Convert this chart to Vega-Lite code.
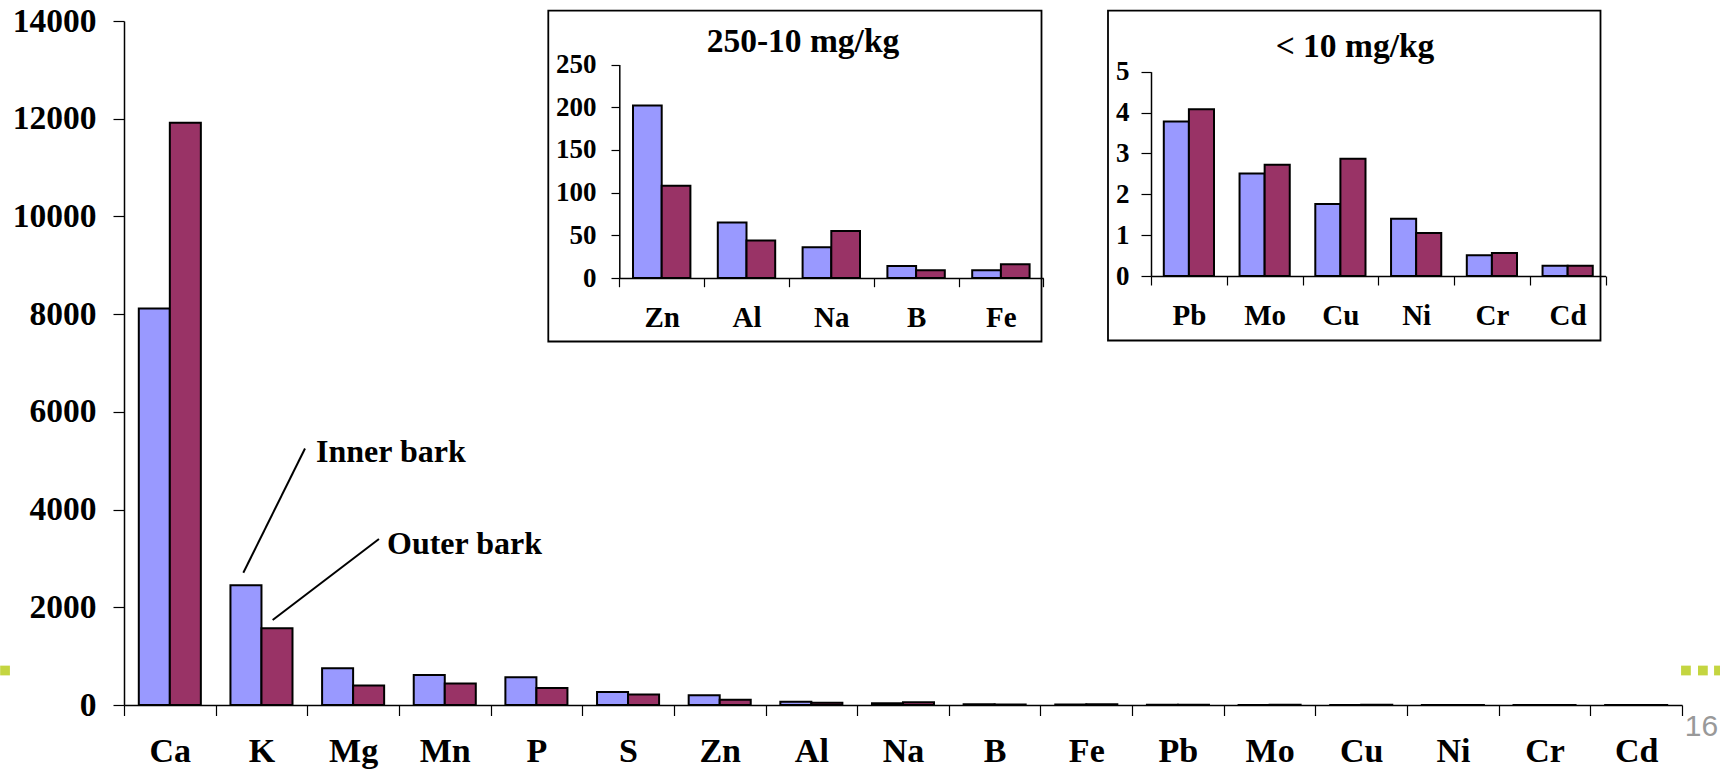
{
  "$schema": "https://vega.github.io/schema/vega-lite/v6.json",
  "width": 1558,
  "height": 684,
  "autosize": "none",
  "padding": {"left": 124, "top": 21, "right": 38, "bottom": 65},
  "background": "white",
  "config": {
    "view": {"stroke": null},
    "font": "Liberation Serif",
    "axis": {
      "labelFont": "Liberation Serif",
      "labelFontWeight": "bold",
      "labelColor": "black",
      "domainColor": "black",
      "domainWidth": 1.5,
      "tickColor": "black",
      "tickWidth": 1.2,
      "grid": false,
      "labelOverlap": false,
      "labelFlush": false
    }
  },
  "datasets": {
    "bark": [
      {"element": "Ca", "part": "Inner bark", "value": 8115},
      {"element": "Ca", "part": "Outer bark", "value": 11915},
      {"element": "K", "part": "Inner bark", "value": 2450},
      {"element": "K", "part": "Outer bark", "value": 1570},
      {"element": "Mg", "part": "Inner bark", "value": 750},
      {"element": "Mg", "part": "Outer bark", "value": 400},
      {"element": "Mn", "part": "Inner bark", "value": 615},
      {"element": "Mn", "part": "Outer bark", "value": 440},
      {"element": "P", "part": "Inner bark", "value": 570},
      {"element": "P", "part": "Outer bark", "value": 348},
      {"element": "S", "part": "Inner bark", "value": 266},
      {"element": "S", "part": "Outer bark", "value": 217},
      {"element": "Zn", "part": "Inner bark", "value": 202},
      {"element": "Zn", "part": "Outer bark", "value": 108},
      {"element": "Al", "part": "Inner bark", "value": 65},
      {"element": "Al", "part": "Outer bark", "value": 44},
      {"element": "Na", "part": "Inner bark", "value": 36},
      {"element": "Na", "part": "Outer bark", "value": 55},
      {"element": "B", "part": "Inner bark", "value": 14},
      {"element": "B", "part": "Outer bark", "value": 9},
      {"element": "Fe", "part": "Inner bark", "value": 9},
      {"element": "Fe", "part": "Outer bark", "value": 16},
      {"element": "Pb", "part": "Inner bark", "value": 3.78},
      {"element": "Pb", "part": "Outer bark", "value": 4.08},
      {"element": "Mo", "part": "Inner bark", "value": 2.51},
      {"element": "Mo", "part": "Outer bark", "value": 2.72},
      {"element": "Cu", "part": "Inner bark", "value": 1.76},
      {"element": "Cu", "part": "Outer bark", "value": 2.87},
      {"element": "Ni", "part": "Inner bark", "value": 1.4},
      {"element": "Ni", "part": "Outer bark", "value": 1.05},
      {"element": "Cr", "part": "Inner bark", "value": 0.51},
      {"element": "Cr", "part": "Outer bark", "value": 0.56},
      {"element": "Cd", "part": "Inner bark", "value": 0.25},
      {"element": "Cd", "part": "Outer bark", "value": 0.25}
    ]
  },
  "resolve": {
    "scale": {"x": "independent", "y": "independent", "xOffset": "independent"},
    "axis": {"x": "independent", "y": "independent"}
  },
  "layer": [
    {
      "data": {"name": "bark"},
      "mark": {"type": "bar", "stroke": "black", "strokeWidth": 2},
      "encoding": {
        "x": {
          "field": "element",
          "type": "nominal",
          "sort": ["Ca", "K", "Mg", "Mn", "P", "S", "Zn", "Al", "Na", "B", "Fe", "Pb", "Mo", "Cu", "Ni", "Cr", "Cd"],
          "scale": {"range": [0, 1558], "paddingInner": 0, "paddingOuter": 0},
          "axis": {
            "orient": "bottom",
            "title": null,
            "tickBand": "extent",
            "tickSize": 10.5,
            "labelFontSize": 34,
            "labelAngle": 0,
            "labelBaseline": "alphabetic",
            "labelPadding": 45.7,
            "zindex": 1
          }
        },
        "xOffset": {
          "field": "part",
          "type": "nominal",
          "sort": ["Inner bark", "Outer bark"],
          "scale": {"range": [14.8, 76.85], "paddingInner": 0, "paddingOuter": 0}
        },
        "y": {
          "field": "value",
          "type": "quantitative",
          "scale": {"domain": [0, 14000], "nice": false},
          "axis": {
            "orient": "left",
            "title": null,
            "format": "d",
            "values": [0, 2000, 4000, 6000, 8000, 10000, 12000, 14000],
            "tickSize": 11,
            "labelFontSize": 33.5,
            "labelPadding": 17,
            "zindex": 1
          }
        },
        "color": {
          "field": "part",
          "type": "nominal",
          "scale": {"domain": ["Inner bark", "Outer bark"], "range": ["#9999ff", "#993366"]},
          "legend": null
        }
      }
    },
    {
      "data": {"values": [{}]},
      "layer": [
        {
          "mark": {"type": "rule", "stroke": "black", "strokeWidth": 2},
          "encoding": {
            "x": {"datum": 1.975, "type": "quantitative", "scale": {"domain": [0, 17], "range": [0, 1558], "nice": false, "zero": false}, "axis": null},
            "x2": {"datum": 1.302},
            "y": {"datum": 5250, "type": "quantitative", "scale": {"domain": [0, 14000], "nice": false}, "axis": null},
            "y2": {"datum": 2708}
          }
        },
        {
          "mark": {"type": "rule", "stroke": "black", "strokeWidth": 2},
          "encoding": {
            "x": {"datum": 2.782, "type": "quantitative", "scale": {"domain": [0, 17], "range": [0, 1558], "nice": false, "zero": false}, "axis": null},
            "x2": {"datum": 1.622},
            "y": {"datum": 3398, "type": "quantitative", "scale": {"domain": [0, 14000], "nice": false}, "axis": null},
            "y2": {"datum": 1740}
          }
        },
        {
          "mark": {"type": "text", "text": "Inner bark", "align": "left", "baseline": "alphabetic", "font": "Liberation Serif", "fontWeight": "bold", "fontSize": 32, "fill": "black"},
          "encoding": {
            "x": {"datum": 2.095, "type": "quantitative", "scale": {"domain": [0, 17], "range": [0, 1558], "nice": false, "zero": false}, "axis": null},
            "y": {"datum": 4974, "type": "quantitative", "scale": {"domain": [0, 14000], "nice": false}, "axis": null}
          }
        },
        {
          "mark": {"type": "text", "text": "Outer bark", "align": "left", "baseline": "alphabetic", "font": "Liberation Serif", "fontWeight": "bold", "fontSize": 32, "fill": "black"},
          "encoding": {
            "x": {"datum": 2.87, "type": "quantitative", "scale": {"domain": [0, 17], "range": [0, 1558], "nice": false, "zero": false}, "axis": null},
            "y": {"datum": 3085, "type": "quantitative", "scale": {"domain": [0, 14000], "nice": false}, "axis": null}
          }
        },
        {
          "mark": {"type": "point", "shape": "square", "filled": true, "size": 95, "color": "#c4d540", "opacity": 1},
          "encoding": {
            "x": {"datum": -1.298, "type": "quantitative", "scale": {"domain": [0, 17], "range": [0, 1558], "nice": false, "zero": false}, "axis": null},
            "y": {"datum": 706, "type": "quantitative", "scale": {"domain": [0, 14000], "nice": false}, "axis": null}
          }
        },
        {
          "mark": {"type": "point", "shape": "square", "filled": true, "size": 95, "color": "#c4d540", "opacity": 1},
          "encoding": {
            "x": {"datum": 17.043, "type": "quantitative", "scale": {"domain": [0, 17], "range": [0, 1558], "nice": false, "zero": false}, "axis": null},
            "y": {"datum": 706, "type": "quantitative", "scale": {"domain": [0, 14000], "nice": false}, "axis": null}
          }
        },
        {
          "mark": {"type": "point", "shape": "square", "filled": true, "size": 95, "color": "#c4d540", "opacity": 1},
          "encoding": {
            "x": {"datum": 17.228, "type": "quantitative", "scale": {"domain": [0, 17], "range": [0, 1558], "nice": false, "zero": false}, "axis": null},
            "y": {"datum": 706, "type": "quantitative", "scale": {"domain": [0, 14000], "nice": false}, "axis": null}
          }
        },
        {
          "mark": {"type": "point", "shape": "square", "filled": true, "size": 95, "color": "#c4d540", "opacity": 1},
          "encoding": {
            "x": {"datum": 17.403, "type": "quantitative", "scale": {"domain": [0, 17], "range": [0, 1558], "nice": false, "zero": false}, "axis": null},
            "y": {"datum": 706, "type": "quantitative", "scale": {"domain": [0, 14000], "nice": false}, "axis": null}
          }
        },
        {
          "mark": {"type": "text", "text": "16", "align": "left", "baseline": "alphabetic", "font": "Liberation Sans", "fontSize": 30, "fill": "#999999"},
          "encoding": {
            "x": {"datum": 17.03, "type": "quantitative", "scale": {"domain": [0, 17], "range": [0, 1558], "nice": false, "zero": false}, "axis": null},
            "y": {"datum": -634.5, "type": "quantitative", "scale": {"domain": [0, 14000], "nice": false}, "axis": null}
          }
        }
      ]
    },
    {
      "data": {"values": [{}]},
      "layer": [
        {
          "mark": {"type": "rect", "fill": "white", "stroke": "black", "strokeWidth": 1.8},
          "encoding": {
            "x": {"datum": -0.8373, "type": "quantitative", "scale": {"domain": [0, 5], "range": [495.3, 919.3], "nice": false, "zero": false}, "axis": null},
            "x2": {"datum": 4.9788},
            "y": {"datum": -74.36, "type": "quantitative", "scale": {"domain": [0, 250], "range": [257, 43.5], "nice": false, "zero": false}, "axis": null},
            "y2": {"datum": 313}
          }
        },
        {
          "mark": {"type": "text", "text": "250-10 mg/kg", "align": "center", "baseline": "alphabetic", "font": "Liberation Serif", "fontWeight": "bold", "fontSize": 33.5, "fill": "black"},
          "encoding": {
            "x": {"datum": 2.166, "type": "quantitative", "scale": {"domain": [0, 5], "range": [495.3, 919.3], "nice": false, "zero": false}, "axis": null},
            "y": {"datum": 264.6, "type": "quantitative", "scale": {"domain": [0, 250], "range": [257, 43.5], "nice": false, "zero": false}, "axis": null}
          }
        }
      ]
    },
    {
      "data": {"name": "bark"},
      "transform": [{"filter": {"field": "element", "oneOf": ["Zn", "Al", "Na", "B", "Fe"]}}],
      "mark": {"type": "bar", "stroke": "black", "strokeWidth": 2},
      "encoding": {
        "x": {
          "field": "element",
          "type": "nominal",
          "sort": ["Zn", "Al", "Na", "B", "Fe"],
          "scale": {"range": [495.3, 919.3], "paddingInner": 0, "paddingOuter": 0},
          "axis": {
            "orient": "bottom",
            "offset": -427,
            "title": null,
            "tickBand": "extent",
            "tickSize": 8.7,
            "labelFontSize": 29,
            "labelAngle": 0,
            "labelBaseline": "alphabetic",
            "labelPadding": 40,
            "zindex": 2
          }
        },
        "xOffset": {
          "field": "part",
          "type": "nominal",
          "sort": ["Inner bark", "Outer bark"],
          "scale": {"range": [13.7, 71.1], "paddingInner": 0, "paddingOuter": 0}
        },
        "y": {
          "field": "value",
          "type": "quantitative",
          "scale": {"domain": [0, 250], "range": [257, 43.5], "nice": false},
          "axis": {
            "orient": "left",
            "offset": -495.3,
            "title": null,
            "values": [0, 50, 100, 150, 200, 250],
            "tickSize": 8.3,
            "labelFontSize": 27,
            "labelPadding": 15,
            "zindex": 2
          }
        },
        "color": {
          "field": "part",
          "type": "nominal",
          "scale": {"domain": ["Inner bark", "Outer bark"], "range": ["#9999ff", "#993366"]},
          "legend": null
        }
      }
    },
    {
      "data": {"values": [{}]},
      "layer": [
        {
          "mark": {"type": "rect", "fill": "white", "stroke": "black", "strokeWidth": 1.8},
          "encoding": {
            "x": {"datum": -0.5677, "type": "quantitative", "scale": {"domain": [0, 6], "range": [1027, 1481.5], "nice": false, "zero": false}, "axis": null},
            "x2": {"datum": 5.934},
            "y": {"datum": -1.5786, "type": "quantitative", "scale": {"domain": [0, 5], "range": [255, 50.7], "nice": false, "zero": false}, "axis": null},
            "y2": {"datum": 6.493}
          }
        },
        {
          "mark": {"type": "text", "text": "< 10 mg/kg", "align": "center", "baseline": "alphabetic", "font": "Liberation Serif", "fontWeight": "bold", "fontSize": 33.5, "fill": "black"},
          "encoding": {
            "x": {"datum": 2.693, "type": "quantitative", "scale": {"domain": [0, 6], "range": [1027, 1481.5], "nice": false, "zero": false}, "axis": null},
            "y": {"datum": 5.352, "type": "quantitative", "scale": {"domain": [0, 5], "range": [255, 50.7], "nice": false, "zero": false}, "axis": null}
          }
        }
      ]
    },
    {
      "data": {"name": "bark"},
      "transform": [{"filter": {"field": "element", "oneOf": ["Pb", "Mo", "Cu", "Ni", "Cr", "Cd"]}}],
      "mark": {"type": "bar", "stroke": "black", "strokeWidth": 2},
      "encoding": {
        "x": {
          "field": "element",
          "type": "nominal",
          "sort": ["Pb", "Mo", "Cu", "Ni", "Cr", "Cd"],
          "scale": {"range": [1027, 1481.5], "paddingInner": 0, "paddingOuter": 0},
          "axis": {
            "orient": "bottom",
            "offset": -429,
            "title": null,
            "tickBand": "extent",
            "tickSize": 9,
            "labelFontSize": 29,
            "labelAngle": 0,
            "labelBaseline": "alphabetic",
            "labelPadding": 39.5,
            "zindex": 2
          }
        },
        "xOffset": {
          "field": "part",
          "type": "nominal",
          "sort": ["Inner bark", "Outer bark"],
          "scale": {"range": [12.8, 63.0], "paddingInner": 0, "paddingOuter": 0}
        },
        "y": {
          "field": "value",
          "type": "quantitative",
          "scale": {"domain": [0, 5], "range": [255, 50.7], "nice": false},
          "axis": {
            "orient": "left",
            "offset": -1027,
            "title": null,
            "values": [0, 1, 2, 3, 4, 5],
            "tickSize": 10,
            "labelFontSize": 27,
            "labelPadding": 12,
            "zindex": 2
          }
        },
        "color": {
          "field": "part",
          "type": "nominal",
          "scale": {"domain": ["Inner bark", "Outer bark"], "range": ["#9999ff", "#993366"]},
          "legend": null
        }
      }
    }
  ]
}
